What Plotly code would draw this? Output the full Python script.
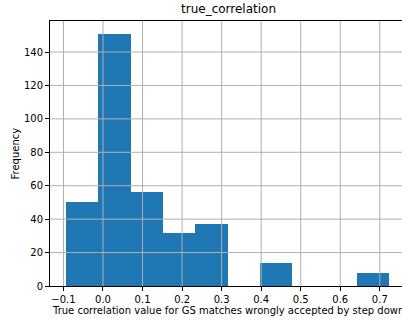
import plotly.graph_objects as go

# Histogram of true_correlation: bin edges and counts per bin
bin_edges = [-0.0932, -0.0116, 0.0700, 0.1516, 0.2332, 0.3149,
             0.3965, 0.4781, 0.5597, 0.6413, 0.7229]
counts = [50, 151, 56, 32, 37, 0, 14, 0, 0, 8]

x_ticks = [-0.1, 0.0, 0.1, 0.2, 0.3, 0.4, 0.5, 0.6, 0.7]
x_tick_text = ["\u22120.1", "0.0", "0.1", "0.2", "0.3", "0.4", "0.5", "0.6", "0.7"]
y_ticks = [0, 20, 40, 60, 80, 100, 120, 140]

title_text = "true_correlation"
x_label = "True correlation value for GS matches wrongly accepted by step down"
y_label = "Frequency"

centers = [(a + b) / 2 for a, b in zip(bin_edges[:-1], bin_edges[1:])]
widths = [b - a for a, b in zip(bin_edges[:-1], bin_edges[1:])]

FONT = "DejaVu Sans"
GRID = "#b0b0b0"

fig = go.Figure(go.Bar(
    x=centers, y=counts, width=widths,
    marker=dict(color="#1f77b4", line=dict(width=0)),
    hoverinfo="x+y",
))

# grid drawn over the bars
shapes = []
for t in x_ticks:
    shapes.append(dict(type="line", xref="x", yref="paper", x0=t, x1=t, y0=0, y1=1,
                       line=dict(color=GRID, width=1), layer="above"))
for t in y_ticks[1:]:
    shapes.append(dict(type="line", xref="paper", yref="y", x0=0, x1=1, y0=t, y1=t,
                       line=dict(color=GRID, width=1), layer="above"))

fig.update_layout(
    width=402, height=320,
    margin=dict(l=50, r=0, t=21, b=34),
    paper_bgcolor="white", plot_bgcolor="white",
    font=dict(family=FONT, size=10, color="black"),
    showlegend=False,
    bargap=0,
    shapes=shapes,
    annotations=[
        dict(text=title_text, xref="paper", yref="paper", x=0.507, y=1,
             xanchor="center", yanchor="bottom", yshift=3, showarrow=False,
             font=dict(family=FONT, size=12, color="black")),
        dict(text=x_label, xref="paper", yref="paper", x=0.507, y=0,
             xanchor="center", yanchor="top", yshift=-17, showarrow=False,
             font=dict(family=FONT, size=10, color="black")),
        dict(text=y_label, xref="paper", yref="paper", x=0, y=0.5,
             xanchor="center", yanchor="middle", xshift=-35, textangle=-90,
             showarrow=False, font=dict(family=FONT, size=10, color="black")),
    ],
)

fig.update_xaxes(
    range=[-0.134, 0.7561], tickvals=x_ticks, ticktext=x_tick_text,
    showgrid=False, zeroline=False,
    showline=True, linecolor="black", linewidth=1, mirror=True,
    ticks="outside", ticklen=4, tickcolor="black", tickwidth=1,
    layer="above traces",
)
fig.update_yaxes(
    range=[0, 158.55], tickvals=y_ticks,
    showgrid=False, zeroline=False,
    showline=True, linecolor="black", linewidth=1,
    ticks="outside", ticklen=4, tickcolor="black", tickwidth=1,
    layer="above traces",
)

fig.write_html("out.html")
